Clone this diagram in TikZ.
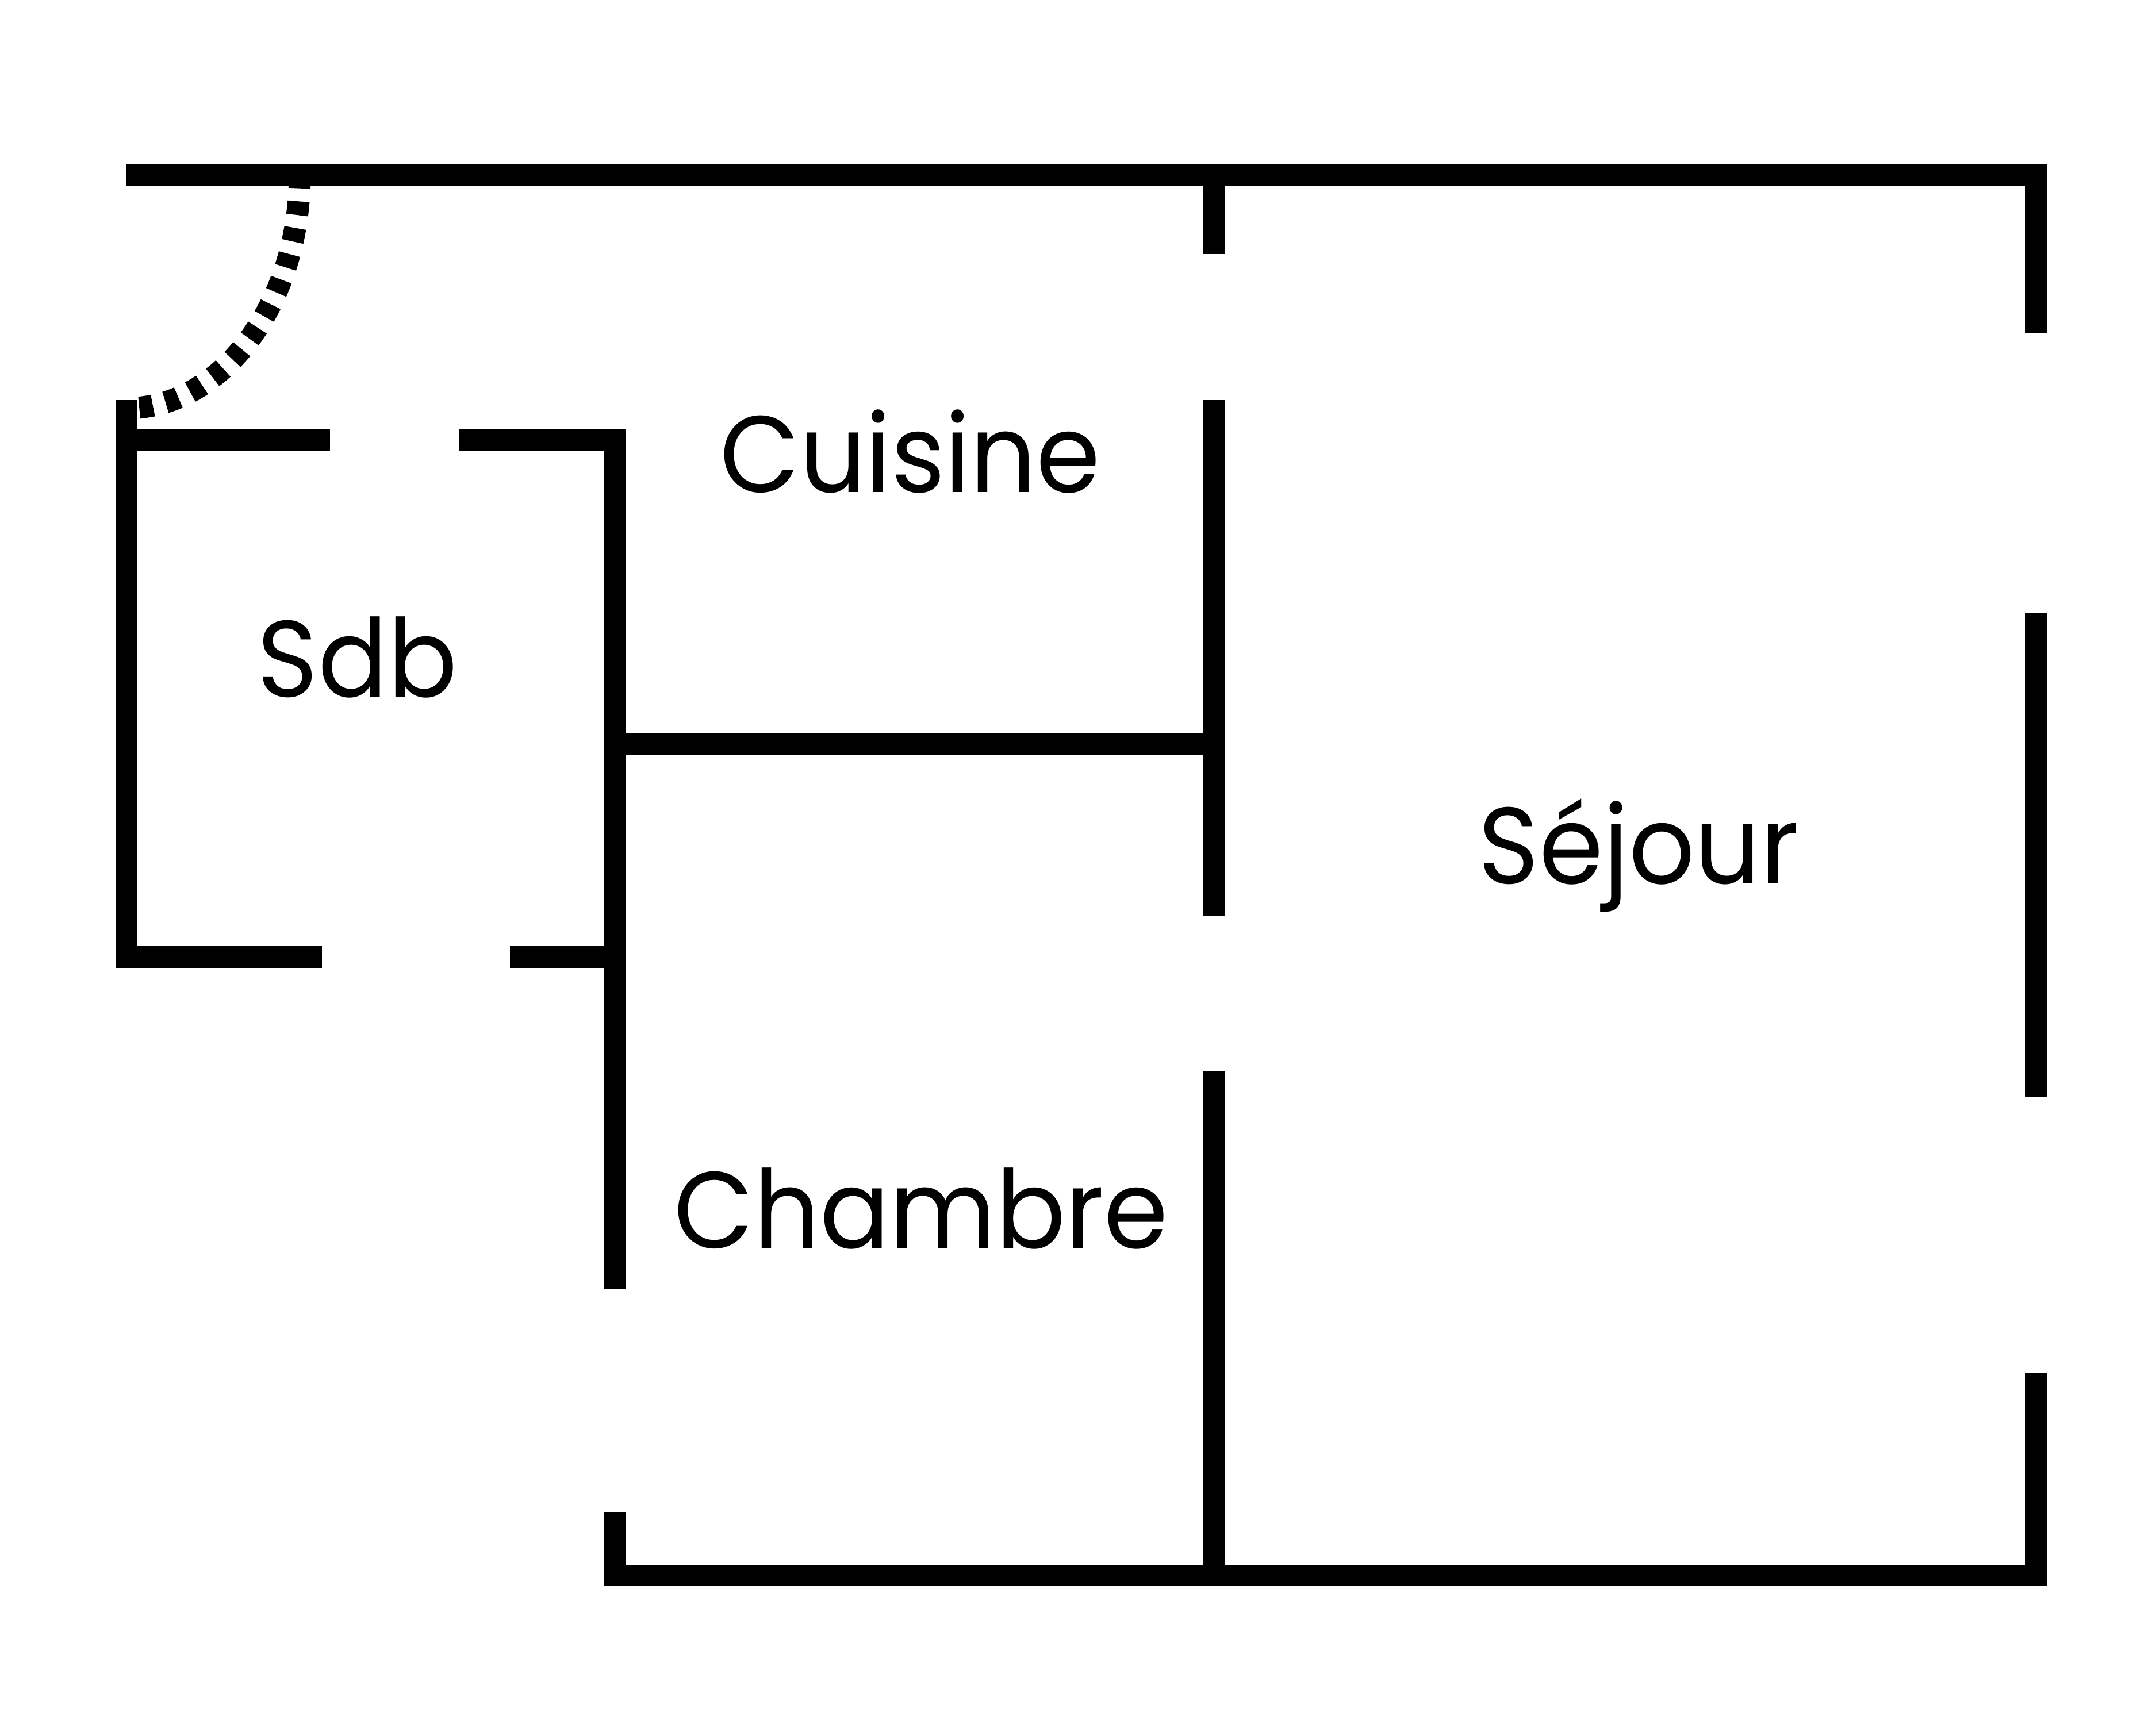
\documentclass[tikz,border=0pt]{standalone}
\usepackage{fontspec}
\setmainfont[FakeStretch=0.95]{Poppins}
\usepackage{tikz}
\tikzstyle{wall} = [draw, line width=16pt, line cap=butt, line join=miter]
\tikzstyle{door} = [draw, line width=16pt, line cap=butt, dash pattern=on 10pt off 9.5pt]
\tikzstyle{room} = [anchor=base, inner sep=0pt, font=\fontsize{79}{95}\selectfont]

\begin{document}
\begin{tikzpicture}[x=1pt, y=-1pt]
                \useasboundingbox (0,0) rectangle (1568,1260.6);
                % outer walls
                \path [wall] (92,127) -- (1481,127) -- (1481,242);
                \path [wall] (1481,446) -- (1481,798);
                \path [wall] (1481,999) -- (1481,1146) -- (447,1146) -- (447,1100);
                % inner walls
                \path [wall] (883,127) -- (883,185);
                \path [wall] (883,291) -- (883,666);
                \path [wall] (883,779) -- (883,1146);
                \path [wall] (447,541) -- (883,541);
                \path [wall] (334,320) -- (447,320) -- (447,938);
                \path [wall] (92,320) -- (240,320);
                \path [wall] (92,291) -- (92,696) -- (234,696);
                \path [wall] (371,696) -- (447,696);
                % entrance door
                \path [door] (218,127) arc [start angle=0, end angle=90, x radius=126, y radius=170];
                % rooms
                \node [room] at (662,358) (cuisine) {Cuisine};
                \node [room] at (260,507) (sdb) {Sdb};
                \node [room] at (1192,643) (sejour) {Séjour};
                \node [room] at (670,908) (chambre) {Chambre};
            \end{tikzpicture}
\end{document}
